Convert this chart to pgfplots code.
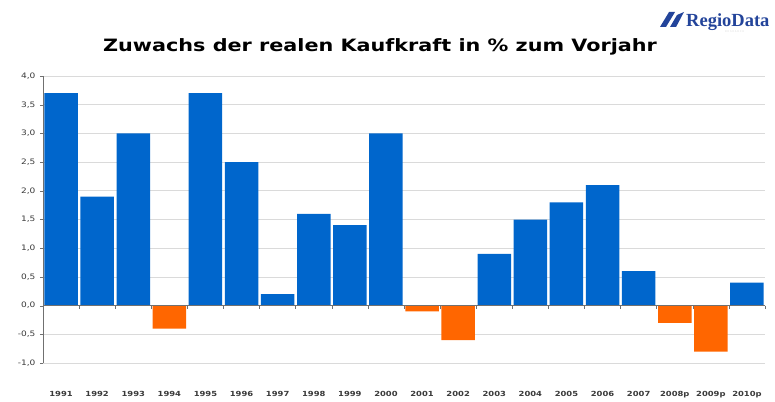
\documentclass[border=0pt]{standalone}
\usepackage{pgfplots}
\pgfplotsset{compat=1.18}
\usepackage{fontspec}
\setmainfont{DejaVu Sans}
\newfontfamily\widefont[FakeStretch=1.22]{DejaVu Sans}
\newfontfamily\tickfont[FakeStretch=1.2]{DejaVu Sans}
\newfontfamily\logofont{Liberation Serif}
\definecolor{barblue}{HTML}{0066CC}
\definecolor{barorange}{HTML}{FF6600}
\definecolor{gridgray}{HTML}{DADADA}
\definecolor{axisgray}{HTML}{707070}
\definecolor{labelgray}{HTML}{3A3A3A}
\definecolor{logoblue}{HTML}{23449A}
\begin{document}
\begin{tikzpicture}
\begin{axis}[
  scale only axis,
  width=722pt, height=287pt,
  at={(0,0)}, anchor=south west,
  xmin=-0.5, xmax=19.5,
  ymin=-1, ymax=4,
  axis x line=bottom,
  axis y line=left,
  x axis line style={draw=none},
  y axis line style={axisgray, -},
  ytick={-1,-0.5,...,4},
  xtick={0,...,19},
  xticklabels={1991,1992,1993,1994,1995,1996,1997,1998,1999,2000,2001,2002,2003,2004,2005,2006,2007,2008p,2009p,2010p},
  major x tick style={draw=none},
  major y tick style={axisgray},
  major tick length=3pt,
  tick align=outside,
  ymajorgrids,
  grid style={gridgray, line width=0.8pt},
  /pgf/number format/.cd, use comma, fixed, fixed zerofill, precision=1, assume math mode=true,
  /pgfplots/.cd,
  yticklabel style={font=\tickfont\fontsize{7.5}{8}\selectfont, text=labelgray, xshift=-1pt},
  xticklabel style={font=\tickfont\fontsize{7}{8}\selectfont\bfseries, text=labelgray, yshift=-22pt},
  ybar, bar width=33.5pt, bar shift=0pt,
  clip=false,
]
\addplot[fill=barblue, draw=none] coordinates {
 (0,3.7) (1,1.9) (2,3.0) (4,3.7) (5,2.5) (6,0.2) (7,1.6) (8,1.4) (9,3.0)
 (12,0.9) (13,1.5) (14,1.8) (15,2.1) (16,0.6) (19,0.4)};
\addplot[fill=barorange, draw=none] coordinates {
 (3,-0.4) (10,-0.1) (11,-0.6) (17,-0.3) (18,-0.8)};
\draw[axisgray, line width=0.8pt] (axis cs:-0.5,0) -- (axis cs:19.5,0);
\pgfplotsinvokeforeach{0.5,1.5,...,19.5}{
  \draw[axisgray, line width=0.6pt] (axis cs:#1,0) -- ([yshift=-3pt]axis cs:#1,0);
}
\end{axis}
\node[font=\widefont\fontsize{17}{18}\selectfont\bfseries, anchor=base] at (337pt,311pt) {Zuwachs der realen Kaufkraft in \% zum Vorjahr};
% logo
\fill[logoblue] (617pt,336pt) to[out=60,in=240] (626pt,351pt) -- (632pt,351pt) to[out=240,in=60] (623pt,336pt) -- cycle;
\fill[logoblue] (627pt,336pt) to[out=60,in=240] (634pt,348pt) -- (641pt,351pt) to[out=240,in=60] (633pt,336pt) -- cycle;
\node[font=\logofont\fontsize{18.5}{20}\selectfont\bfseries, text=logoblue, anchor=base west, inner sep=0pt] at (643pt,336pt) {RegioData};
\node[font=\fontsize{2.5}{3}\selectfont, text=gridgray, anchor=base west, inner sep=0pt] at (682pt,330pt) {R E S E A R C H};
\pgfresetboundingbox
\path[use as bounding box] (-43pt,-38pt) rectangle (732pt,363pt);
\end{tikzpicture}
\end{document}
